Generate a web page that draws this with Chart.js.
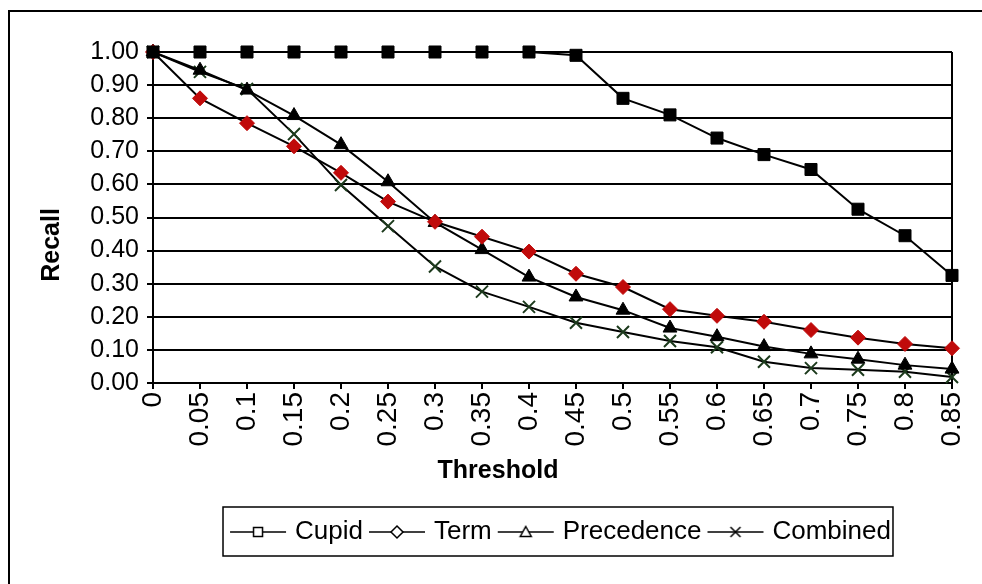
<!DOCTYPE html>
<html>
<head>
<meta charset="utf-8">
<script src="https://cdn.jsdelivr.net/npm/chart.js@4/dist/chart.umd.min.js"></script>
<style>
  html, body { margin: 0; padding: 0; background: #fff; }
  #wrap { width: 982px; height: 584px; }
</style>
</head>
<body>
<div id="wrap"><canvas id="recall-chart" width="982" height="584"></canvas></div>
<script>
const thresholds = ['0', '0.05', '0.1', '0.15', '0.2', '0.25', '0.3', '0.35', '0.4', '0.45', '0.5', '0.55', '0.6', '0.65', '0.7', '0.75', '0.8', '0.85'];
const cupid = [1, 1, 1, 1, 1, 1, 1, 1, 1, 0.99, 0.86, 0.81, 0.74, 0.69, 0.645, 0.525, 0.445, 0.325];
const term = [1, 0.86, 0.785, 0.715, 0.635, 0.548, 0.487, 0.442, 0.397, 0.33, 0.29, 0.223, 0.203, 0.185, 0.16, 0.137, 0.118, 0.105];
const precedence = [1, 0.945, 0.885, 0.808, 0.72, 0.608, 0.485, 0.403, 0.32, 0.26, 0.22, 0.166, 0.14, 0.11, 0.088, 0.072, 0.054, 0.042];
const combined = [1, 0.94, 0.888, 0.752, 0.598, 0.474, 0.352, 0.276, 0.23, 0.182, 0.154, 0.127, 0.108, 0.064, 0.045, 0.04, 0.034, 0.018];
const xTitle = 'Threshold';
const yTitle = 'Recall';

Chart.defaults.color = '#000';
Chart.defaults.font.family = '"Liberation Sans", Arial, sans-serif';

// small legend icon: line with a hollow marker in the middle
function legendIcon(kind) {
  const c = document.createElement('canvas');
  c.width = 58; c.height = 18;
  const g = c.getContext('2d');
  const m = 29;
  g.strokeStyle = '#000';
  g.lineWidth = 1.5;
  g.beginPath(); g.moveTo(1, 9); g.lineTo(57, 9); g.stroke();
  g.fillStyle = '#fff';
  g.beginPath();
  if (kind === 'rect') {
    g.rect(m - 4.5, 4.5, 9, 9);
  } else if (kind === 'rectRot') {
    g.moveTo(m, 3); g.lineTo(m + 6, 9); g.lineTo(m, 15); g.lineTo(m - 6, 9); g.closePath();
  } else if (kind === 'triangle') {
    g.moveTo(m, 3.5); g.lineTo(m + 5.5, 13.5); g.lineTo(m - 5.5, 13.5); g.closePath();
  }
  if (kind === 'crossRot') {
    g.moveTo(m - 5, 4); g.lineTo(m + 5, 14); g.moveTo(m + 5, 4); g.lineTo(m - 5, 14);
    g.stroke();
  } else {
    g.fill(); g.stroke();
  }
  return c;
}

const legendShift = 10;

const framePlugin = {
  id: 'frame',
  afterUpdate(chart) {
    // the original legend sits a bit right of the plot centre
    const lg = chart.legend;
    lg.left += legendShift;
    lg.right += legendShift;
    (lg.legendHitBoxes || []).forEach(b => { b.left += legendShift; });
  },
  beforeDatasetsDraw(chart) {
    const { ctx, chartArea } = chart;
    ctx.save();
    ctx.strokeStyle = '#000';
    ctx.lineWidth = 2;
    ctx.beginPath();
    ctx.moveTo(chartArea.right, chartArea.top);
    ctx.lineTo(chartArea.right, chartArea.bottom);
    ctx.stroke();
    ctx.restore();
  },
  afterDraw(chart) {
    const { ctx } = chart;
    ctx.save();
    // outer border
    ctx.strokeStyle = '#000';
    ctx.lineWidth = 2;
    ctx.strokeRect(9, 11, 1000, 600);
    // legend box
    const boxes = chart.legend.legendHitBoxes;
    if (boxes && boxes.length) {
      const l = boxes[0].left - 11;
      const last = boxes[boxes.length - 1];
      const r = last.left + last.width + 2;
      const t = boxes[0].top - 12;
      const b = boxes[0].top + boxes[0].height + 11;
      ctx.lineWidth = 1.5;
      ctx.strokeRect(l, t, r - l, b - t);
    }
    // axis titles
    ctx.fillStyle = '#000';
    ctx.font = 'bold 25px "Liberation Sans", Arial, sans-serif';
    ctx.textAlign = 'center';
    ctx.textBaseline = 'middle';
    ctx.fillText(xTitle, 498, 471);
    ctx.translate(52, 245);
    ctx.rotate(-Math.PI / 2);
    ctx.fillText(yTitle, 0, 0);
    ctx.restore();
  }
};

new Chart(document.getElementById('recall-chart'), {
  type: 'line',
  data: {
    labels: thresholds,
    datasets: [
      { label: 'Cupid', data: cupid, borderColor: '#000', borderWidth: 2, pointStyle: 'rect', pointRadius: 8.5,
        pointBackgroundColor: '#000', pointBorderColor: '#000', pointBorderWidth: 1 },
      { label: 'Term', data: term, borderColor: '#000', borderWidth: 2, pointStyle: 'rectRot', pointRadius: 7.5,
        pointBackgroundColor: '#c00a0a', pointBorderColor: '#c00a0a', pointBorderWidth: 1 },
      { label: 'Precedence', data: precedence, borderColor: '#000', borderWidth: 2, pointStyle: 'triangle', pointRadius: 8,
        pointBackgroundColor: '#000', pointBorderColor: '#000', pointBorderWidth: 1 },
      { label: 'Combined', data: combined, borderColor: '#000', borderWidth: 2, pointStyle: 'crossRot', pointRadius: 8.5,
        pointBackgroundColor: '#1c3a1c', pointBorderColor: '#1c3a1c', pointBorderWidth: 2 }
    ]
  },
  options: {
    responsive: false,
    animation: false,
    datasets: { line: { clip: false } },
    layout: { padding: { left: 0, right: 30, top: 52, bottom: 29 } },
    plugins: {
      tooltip: { enabled: false },
      legend: {
        position: 'bottom',
        fullSize: false,
        labels: {
          usePointStyle: true,
          pointStyleWidth: 48,
          padding: 10,
          font: { size: 26 },
          generateLabels(chart) {
            const kinds = ['rect', 'rectRot', 'triangle', 'crossRot'];
            return chart.data.datasets.map((ds, i) => ({
              text: ds.label,
              datasetIndex: i,
              pointStyle: legendIcon(kinds[i]),
              fillStyle: '#fff',
              strokeStyle: '#000',
              lineWidth: 0,
              fontColor: '#000'
            }));
          }
        }
      }
    },
    scales: {
      x: {
        afterFit(scale) {
          scale.height = 126;
          scale.paddingLeft = 0;
          scale.paddingRight = 0;
        },
        grid: { drawOnChartArea: false, color: '#000', lineWidth: 2, tickLength: 6 },
        border: { color: '#000', width: 2 },
        ticks: { autoSkip: false, maxRotation: 90, minRotation: 90, padding: 3, font: { size: 28 } }
      },
      y: {
        min: 0,
        max: 1,
        afterFit(scale) { scale.width = 153; },
        grid: { color: '#000', lineWidth: 2, tickLength: 6 },
        border: { color: '#000', width: 2 },
        ticks: { stepSize: 0.1, autoSkip: false, padding: 8, font: { size: 25 }, callback: v => v.toFixed(2) }
      }
    }
  },
  plugins: [framePlugin]
});
</script>
</body>
</html>
